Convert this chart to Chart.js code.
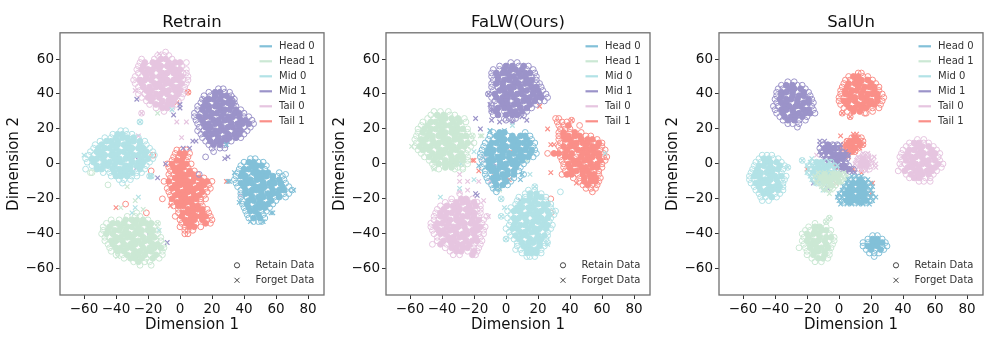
<!DOCTYPE html>
<html>
<head>
<meta charset="utf-8">
<title>t-SNE panels</title>
<script src="https://cdn.jsdelivr.net/npm/chart.js@4/dist/chart.umd.min.js"></script>
<style>
  html, body { margin: 0; padding: 0; background: #fff; }
  canvas { position: absolute; top: 0; }
</style>
</head>
<body>
<canvas id="retrain" width="333" height="343" style="left:0"></canvas>
<canvas id="falw" width="333" height="343" style="left:326px"></canvas>
<canvas id="salun" width="333" height="343" style="left:659px"></canvas>
<script>
const classNames = ["Head 0", "Head 1", "Mid 0", "Mid 1", "Tail 0", "Tail 1"];
const classColors = ["#82c0d8", "#cbe8d4", "#b2e2e6", "#9b93c9", "#e6c5e0", "#fa8f88"];
const panelTitles = ["Retrain", "FaLW(Ours)", "SalUn"];
const xTickValues = [-60, -40, -20, 0, 20, 40, 60, 80];
const yTickValues = [-60, -40, -20, 0, 20, 40, 60];

// every row below is [y, x, x, x ...]
const retrainHead0Retain = [[3,44,47],[1,40,43,46,49,52],[-1,38,42,45,48,51,54],[-3,37,40,43,47,50,53],[-5,36,39,43,46,49,52,55,62],[-6,66],[-7,35,38,41,45,48,51,54,58,61,64],[-9,34,38,41,44,48,51,55,58,62,65],[-11,35,38,42,45,49,52,56,59,63,66],[-13,36,40,43,47,50,53,57,60,64,68],[-15,38,41,45,48,51,55,58,62,65,70],[-17,38,41,44,48,51,55,58,61,65,68],[-19,38,42,45,49,52,56,59,62,66],[-21,39,43,46,50,53,57,60],[-23,39,42,45,49,52,55,58],[-25,40,43,47,50,53,56],[-27,41,44,47,51,54],[-29,42,45,49,52],[-31,43,46,50,53],[-33,46,49,51]];
const retrainHead0Forget = [[11,29],[-10,30,31],[-15,71],[-28,57,58],[-33,44,52],[-5,34],[-22,37]];
const retrainHead1Retain = [[-28,-27],[-30,-33,-28,-25],[-32,-43,-38,-34,-30,-27,-23,-20],[-34,-46,-42,-39,-35,-32,-28,-24,-21,-18,-14],[-36,-48,-44,-41,-37,-33,-30,-26,-23,-19,-16],[-38,-48,-45,-41,-38,-34,-31,-27,-24,-20,-17,-14],[-40,-49,-46,-42,-39,-35,-32,-28,-25,-21,-18,-14],[-42,-47,-44,-40,-37,-33,-30,-26,-23,-19,-16,-12],[-44,-47,-43,-40,-36,-33,-29,-26,-22,-19,-15,-12],[-46,-45,-42,-38,-35,-31,-28,-24,-21,-17,-14,-10],[-48,-44,-40,-37,-33,-30,-26,-23,-19,-16,-12,-10],[-50,-43,-39,-35,-32,-28,-25,-21,-18,-14,-11],[-52,-40,-36,-33,-29,-26,-22,-19,-15,-11],[-54,-35,-31,-28,-24,-21,-17,-13],[-56,-29,-26,-22,-19],[-58,-25,-18],[-12,-45],[-5,-56,-55]];
const retrainHead1Forget = [[-13,-33],[-21,-28],[-26,-23],[-25,-37],[-34,-14],[29,-14],[-49,-40],[-53,-39]];
const retrainMid0Retain = [[19,-37,-34],[17,-42,-39,-36,-33,-30],[15,-47,-43,-40,-36,-33,-29,-26],[13,-50,-46,-43,-39,-36,-32,-29,-25,-22],[11,-53,-49,-46,-42,-39,-35,-32,-28,-25,-21],[9,-54,-51,-47,-44,-40,-37,-33,-30,-26,-23,-19],[7,-56,-52,-49,-45,-42,-38,-35,-31,-28,-24,-21,-17],[5,-57,-54,-50,-47,-43,-40,-36,-33,-29,-26,-22,-19,-16],[3,-59,-55,-52,-48,-45,-41,-38,-34,-31,-27,-24,-20,-17],[1,-58,-54,-51,-47,-44,-40,-37,-33,-30,-26,-23,-19],[-1,-55,-52,-48,-45,-41,-38,-34,-31,-27,-24,-21],[-3,-59,-52,-49,-45,-42,-38,-35,-32,-28,-25,-22],[-5,-48,-44,-41,-37,-34,-30,-27,-24],[-7,-43,-40,-37,-33,-30,-27],[-9,-38,-35,-31],[-11,-36],[24,-25],[-7,-19,-18]];
const retrainMid0Forget = [[24,-25],[-7,-19,-18],[-19,-26],[-25,-28],[-28,-30],[-38,-13],[-54,-25],[31,-5],[5,-60]];
const retrainMid1Retain = [[43,24,27],[41,18,22,25,28,31],[39,15,19,22,26,29,32],[37,14,18,21,25,28,31,34],[35,13,16,20,23,27,30,33,34],[33,11,15,18,22,25,29,32,35],[31,11,14,18,21,25,28,31,35,38],[29,9,13,16,20,23,27,30,34,37,40],[27,9,12,16,19,23,26,30,33,37,40,43],[25,10,14,17,21,24,28,31,35,38,41,45],[23,11,15,18,22,25,29,32,36,39,43,46],[21,12,16,19,23,26,30,33,37,40,44],[19,11,15,18,22,25,28,32,35,38,42],[17,13,16,20,23,27,30,34,37,40],[15,14,18,21,24,28,31,35,38],[13,16,19,23,26,29,32],[11,18,21,25,28],[9,20,25,28],[7,21],[4,16],[-6,12]];
const retrainMid1Forget = [[37,-27,15],[34,0],[32,0],[28,-4],[4,-28],[-2,-27],[-8,-14],[9,2,6],[-39,-19],[-45,-8],[0,-9],[4,30],[3,28],[13,8,10],[38,33]];
const retrainTail0Retain = [[64,-9],[62,-14,-10,-7],[60,-24,-16,-12,-9,-5],[58,-25,-22,-17,-14,-10,-7,-3,0,4],[56,-26,-23,-19,-15,-12,-8,-5,-2,1],[54,-27,-24,-20,-17,-13,-10,-6,-3,0,4],[52,-26,-22,-18,-15,-11,-8,-4,-1,2,4],[50,-28,-24,-21,-17,-13,-10,-6,-2,1,5],[48,-29,-25,-22,-18,-15,-11,-8,-4,-1,2,5],[46,-28,-24,-20,-16,-13,-9,-6,-2,1,4],[44,-26,-23,-19,-15,-12,-8,-4,-1,3],[42,-25,-21,-18,-14,-10,-7,-3,0,3],[40,-26,-22,-19,-15,-12,-8,-5,-1,2],[38,-24,-20,-17,-13,-10,-6,-3,1],[36,-21,-18,-14,-11,-7,-4,-1],[34,-19,-15,-12,-8,-5,-2],[32,-15,-11,-8,-5],[30,-10],[29,-24]];
const retrainTail0Forget = [[42,-28],[29,-24],[24,-2,4],[15,1],[16,-26],[-18,38],[63,-13]];
const retrainTail1Retain = [[8,-2,1,4],[6,-3,0,3,6],[4,-4,-1,2,5],[2,-5,-2,1,4],[0,-8,-5,-2,1,4,7],[-2,-7,-4,-1,2,5],[-4,-6,-3,0,3,6,9],[-6,-7,-4,-1,2,5,8,11],[-8,-6,-3,0,3,6,9,12,15],[-10,-10,-7,-4,-1,2,5,8,11,14,17,20],[-12,-6,-3,0,3,6,9,12,15,18],[-14,-8,-5,-2,1,4,7,10,13,16,19],[-16,-7,-4,-1,2,5,8,11,14,17],[-18,-6,-3,0,3,6,9,12,15],[-20,-11,-5,-2,1,4,7,10,13,16],[-22,-5,-2,1,4,7,10,13],[-24,-4,-1,2,5,8,11,14],[-26,-1,2,5,8,11,14,17],[-28,-1,2,5,8,11,14,18],[-30,-3,1,4,7,10,13,16,19],[-32,0,3,6,9,14,17,20],[-34,1,4,7,10,16,19],[-36,0,3,6,9,13],[-38,3,5,8],[-40,3,5],[41,5],[27,16],[5,-17],[-4,-18],[-23,-34],[-28,-21]];
const retrainTail1Forget = [[41,5],[35,-2],[29,21],[-10,29],[-25,-40],[-35,-19],[-42,-17],[-24,-6]];

const falwHead0Retain = [[18,-8,-4,-1,12],[16,-10,-6,-3,1,4,9,12,15],[14,-11,-8,-4,-1,3,6,10,13,16],[12,-13,-9,-6,-2,1,5,8,11,15,18],[10,-14,-10,-7,-3,0,4,7,10,13,17],[8,-15,-11,-8,-4,-1,3,6,9,12,16,18],[6,-16,-12,-9,-5,-2,2,5,9,12,15,19],[4,-16,-12,-9,-5,-2,2,5,8,11,14,17],[2,-15,-11,-8,-4,-1,3,6,10,13],[0,-14,-10,-7,-3,0,4,7,11],[-2,-15,-11,-8,-4,-1,3,6,9],[-4,-13,-9,-6,-2,1,5,8],[-6,-13,-9,-6,-2,1,5,11],[-8,-12,-8,-5,-1,2,5],[-10,-11,-7,-4,0,3],[-12,-9,-6,-2,1],[-14,-8,-5],[-16,-6]];
const falwHead0Forget = [[-9,9],[-1,-17],[-6,10],[-14,-7,-4],[19,-10,-1]];
const falwHead1Retain = [[30,-45,-41,-36],[28,-47,-43,-39,-35,-32],[26,-49,-45,-41,-38,-34,-30,-26],[24,-52,-47,-44,-40,-36,-33,-29,-25],[22,-53,-49,-45,-42,-38,-35,-31,-28],[20,-55,-51,-47,-44,-40,-37,-33,-30,-27,-24],[18,-55,-52,-48,-45,-41,-38,-34,-31,-27,-24],[16,-56,-53,-49,-46,-42,-39,-35,-32,-28,-25,-21],[14,-57,-53,-50,-46,-43,-39,-36,-32,-29,-25,-22],[12,-56,-52,-49,-45,-42,-38,-35,-31,-28,-24,-20],[10,-57,-54,-50,-47,-43,-40,-36,-33,-29,-26,-22],[8,-55,-52,-48,-45,-41,-38,-34,-31,-27,-24],[6,-53,-49,-46,-42,-39,-35,-32,-28,-25],[4,-51,-48,-44,-41,-37,-34,-30,-27,-24],[2,-48,-45,-41,-38,-34,-31,-27,-24],[0,-46,-42,-38,-35,-31,-28,-24],[-2,-45,-38,-34,-30,-27],[-3,-42,-32,-27]];
const falwHead1Forget = [[2,-42],[16,-21,-16,-15],[-15,-4],[2,13],[10,-59],[-3,-45]];
const falwMid0Retain = [[-15,14,18],[-17,12,15,19,22],[-19,8,12,15,19,22,25],[-21,7,11,14,18,21,25],[-23,6,9,13,16,20,23,26,28],[-25,3,7,10,14,17,21,24,28],[-27,1,5,8,12,15,19,22,26,29,31],[-29,3,6,10,13,17,20,24,27,30],[-31,1,5,8,12,15,19,22,26,28],[-33,3,6,10,13,17,20,24,27],[-35,2,5,9,12,16,19,23,26,29],[-37,0,4,7,11,14,18,21,25,28],[-39,2,5,9,12,16,19,23,26],[-41,3,6,10,13,17,20,24,26],[-43,5,8,12,15,19,22,25],[-45,7,10,14,17,21,24,26],[-47,7,11,14,18,21,24],[-49,6,9,13,16,19,22],[-51,10,13,16,19,22],[-53,13,15,18],[-16,34],[-20,-3],[-30,-3],[-43,0],[-13,18]];
const falwMid0Forget = [[-19,-41],[-14,-29],[-9,-20],[7,-20],[0,-28,-33],[22,4],[19,-10],[-30,-3],[-43,0],[-13,18],[-6,15,10],[-20,-3],[-25,-1],[6,62],[-46,26]];
const falwMid1Retain = [[58,3,7],[56,-4,0,4,8,11,14],[54,-8,-4,-1,3,6,10,13,17],[52,-9,-6,-2,1,5,8,12,15,18],[50,-9,-5,-2,2,5,9,12,16,19],[48,-8,-5,-1,2,6,9,13,16,19],[46,-9,-6,-2,1,5,8,12,15,19,21],[44,-9,-5,-2,2,5,9,12,16,19,22],[42,-8,-4,-1,3,6,10,13,17,20,23],[40,-11,-7,-4,0,3,7,10,14,17,21,25],[38,-9,-6,-2,1,5,8,12,15,19,22,26],[36,-7,-3,0,4,7,11,14,18,21,24],[34,-9,-6,-2,1,5,8,12,15,19],[32,-9,-5,-1,2,6,9,13,16],[30,-9,-6,-1,3,6,10,13],[28,-8,-5,0,4,7,11],[26,-1,2,6],[25,0,4],[1,-6]];
const falwMid1Forget = [[26,-19],[20,-16],[25,-9],[24,-4,4],[27,10],[25,13],[18,-1],[-17,-19],[-18,-18],[-21,9],[40,-11],[31,-9,-8],[34,-10]];
const falwTail0Retain = [[-17,-29],[-20,-34,-28,-25,-21],[-22,-38,-34,-31,-27,-24,-20,-18],[-24,-41,-37,-33,-30,-26,-23,-19,-16],[-26,-43,-39,-36,-32,-29,-25,-22,-18,-16],[-28,-44,-41,-37,-34,-30,-27,-23,-20,-16],[-30,-45,-41,-38,-34,-31,-27,-24,-20,-17,-12],[-32,-45,-42,-38,-35,-31,-28,-24,-21,-17,-14],[-34,-47,-43,-40,-36,-33,-29,-26,-22,-19,-15],[-36,-47,-44,-40,-37,-33,-30,-26,-23,-19,-16,-13],[-38,-46,-42,-39,-35,-32,-28,-25,-21,-18,-14],[-40,-45,-41,-38,-34,-31,-27,-24,-20,-17,-14],[-42,-43,-40,-36,-33,-29,-26,-22,-19,-16],[-44,-43,-39,-35,-32,-28,-25,-21,-18,-15],[-46,-46,-41,-37,-34,-30,-27,-23,-20,-16],[-48,-38,-34,-31,-27,-24,-20,-17],[-50,-35,-31,-28,-24,-20,-18],[-52,-33,-29,-21,-19],[3,-14]];
const falwTail0Forget = [[-6,-29],[-10,-29,-24,-17,-10],[-15,-24],[-16,-29],[12,-22],[-21,-14],[2,-12],[-30,-11]];
const falwTail1Retain = [[26,31,33],[24,32,35,38],[22,33,36,39,46],[20,34,37,40],[18,33,36,40,43,47],[16,33,36,39,43,46,50,53],[14,33,37,40,44,47,51,54,57],[12,34,37,41,44,48,51,55,58,60],[10,33,36,40,43,47,50,54,57,60],[8,34,38,41,45,48,52,55,59,62],[6,26,30,33,37,41,44,48,51,55,58,61],[4,34,37,40,44,47,51,54,58,61,63],[2,35,38,42,45,49,52,56,59,62],[0,36,39,43,46,50,53,57,60],[-2,36,40,43,47,50,54,57,60],[-4,37,41,44,48,51,55,58],[-6,35,38,41,45,48,52,55,58],[-8,42,46,49,53,56,59],[-10,46,49,53,56,58],[-12,48,51,54,57],[-14,50,53,56],[-16,54],[-20,28],[-28,28],[25,41]];
const falwTail1Forget = [[33,21],[20,26],[25,41],[-5,28],[11,28,30],[7,3],[-7,-7],[-9,2],[-4,-17],[2,-21,-20],[-11,44]];

const salunHead0Retain = [[-41,21,24],[-43,18,21,24,27],[-45,15,18,21,24,27,29],[-47,15,18,21,24,27,30],[-49,17,20,23,26,28],[-51,19,22,25],[-53,22],[-9,7,10,13,16],[-11,6,9,12,15,18],[-13,4,7,10,13,16,19],[-15,3,6,9,12,15,18],[-17,1,4,7,10,13,16,19],[-19,0,3,6,9,12,15,18,21],[-21,2,5,8,11,14,17,20],[-22,3,7,10,14,17]];
const salunHead0Forget = [[-7,8,11,14],[-9,6,9,12,15,18],[-11,5,8,11,14,17,20],[-13,3,6,9,12,15,18,21],[-15,2,5,8,11,14,17,20],[-17,0,3,6,9,12,15,18,21],[-19,-1,2,5,8,11,14,17,20,23],[-21,0,3,6,9,12,15,18,21],[-23,1,5,8,12,15,19]];
const salunHead1Retain = [[-34,-15],[-36,-19,-15,-12,-8],[-38,-21,-18,-15,-11,-8,-5],[-40,-23,-20,-16,-13,-9,-6],[-42,-22,-19,-15,-12,-8,-5,-3],[-44,-23,-20,-16,-13,-9,-6,-3],[-46,-22,-18,-15,-11,-8,-4],[-48,-25,-21,-18,-14,-11,-7,-5],[-50,-20,-16,-13,-9,-6],[-52,-20,-16,-12,-9,-6],[-54,-17,-13,-10,-7],[-56,-15,-11],[-33,-8],[-31,-6],[-6,-12,-9,-6,-3,0,3],[-8,-14,-11,-8,-5,-2,1,4],[-10,-12,-9,-6,-3,0,3],[-12,-11,-8,-5,-2],[-14,-9,-6,-4]];
const salunHead1Forget = [[-33,-8],[-31,-6],[-5,-13,-9,-5,-1,3],[-7,-15,-11,-7,-3,1,5],[-9,-12,-8,-4,0,4],[-11,-14,-10,-6,-2,2],[-13,-11,-7,-3],[-15,-9,-5],[-17,-6]];
const salunMid0Retain = [[5,-48,-45,-42],[3,-50,-47,-44,-41,-38],[1,-52,-49,-46,-43,-39,-36],[-1,-53,-50,-47,-43,-40,-37,-34],[-3,-54,-51,-48,-44,-41,-38,-35],[-5,-55,-52,-49,-45,-42,-39,-36],[-7,-56,-53,-50,-46,-43,-40,-36,-33],[-9,-56,-53,-49,-46,-43,-39,-36,-34],[-11,-55,-52,-48,-45,-41,-38,-35],[-13,-53,-50,-47,-43,-40,-37,-35],[-15,-52,-49,-45,-42,-38,-35],[-17,-50,-47,-44,-40,-37],[-19,-49,-46,-42,-39],[-21,-48,-44],[-2,-32],[2,-23],[1,-17,-14,-11,-8,-5],[-1,-19,-16,-13,-9,-6,-3],[-3,-18,-15,-12,-8,-5,-2],[-5,-19,-16,-13,-10,-6,-3],[-7,-17,-14,-11,-8,-5],[-9,-16,-13,-10,-7],[-11,-14,-11,-8]];
const salunMid0Forget = [[-2,-32],[2,-23],[3,-17],[1,-18,-14,-10,-6],[-1,-20,-16,-12,-8,-4,-1],[-3,-19,-15,-11,-7,-3],[-5,-20,-16,-12,-8,-4],[-7,-18,-14,-10,-6],[-9,-17,-13,-9,-5],[-11,-15,-11,-7],[-15,-10,-8],[-14,5]];
const salunMid1Retain = [[47,-32,-28],[45,-36,-33,-29,-26,-23],[43,-38,-35,-31,-28,-24,-21],[41,-39,-36,-33,-29,-26,-22,-19],[39,-39,-36,-32,-29,-25,-22,-18],[37,-40,-37,-33,-30,-26,-23,-19,-17],[35,-39,-36,-33,-29,-26,-22,-19,-16],[33,-41,-38,-34,-31,-27,-24,-20,-17],[31,-40,-36,-33,-29,-26,-22,-19,-16],[29,-39,-35,-32,-28,-25,-21,-18,-15],[27,-37,-34,-30,-27,-23,-20],[25,-35,-32,-28,-25,-21],[23,-32,-29,-25],[21,-26],[11,-10,-7,-4,-1],[9,-12,-9,-6,-3,0],[7,-11,-8,-5,-1,2],[5,-10,-7,-3,0,3,5],[3,-8,-5,-1,2,5],[1,-6,-2,1,4],[-1,-3,0,3,6],[-3,0,3,6,9]];
const salunMid1Forget = [[13,-12,-9],[11,-12,-8,-5,-2,1],[9,-10,-7,-3,0],[7,-12,-9,-6,-2,1,4],[5,-11,-8,-4,-1,3,6],[3,-9,-6,-2,1,4],[1,-7,-3,0,3],[-1,-2,2,5],[-3,1,4,8],[-5,5,8,10],[-11,-16],[-14,-7],[-7,-4],[-12,8]];
const salunTail0Retain = [[14,49,53],[12,44,47,50,53,56],[10,42,45,49,52,56,59],[8,40,44,47,51,54,58,61],[6,39,43,46,50,53,57,60,63],[4,38,41,45,48,52,55,59,62],[2,39,42,46,49,53,56,60,63],[0,38,41,45,48,52,55,59,62,65],[-2,39,43,46,50,53,57,60,64],[-4,37,41,44,48,51,55,58,61],[-6,42,45,49,52,56,59],[-8,44,47,50,54,57],[-10,50,53,57],[5,15,18],[3,12,15,18,21],[1,11,14,17,20],[-1,11,14,17,20],[-3,13,16,19]];
const salunTail0Forget = [[6,15,18],[4,12,15,18,22],[2,11,14,17,20],[0,10,13,16,19,23],[-2,12,15,18,23],[-4,14,17],[-9,-13],[5,-14]];
const salunTail1Retain = [[52,12,14],[50,6,9,12,15,18],[48,4,7,11,14,18,21],[46,3,6,10,13,17,20,23],[44,2,5,9,12,16,19,22,25],[42,1,4,8,11,15,18,22,25],[40,1,4,7,11,14,18,21,24,27],[38,0,3,7,10,14,17,21,24,28],[36,0,3,6,10,13,17,20,24,27],[34,1,5,8,12,15,19,22,26],[32,3,7,10,14,17,21,25],[30,5,9,13,21],[29,2,16,17],[27,7],[15,8,10,12,14],[13,5,7,10,12,15],[11,3,5,8,10,13,15],[9,2,5,7,10,12],[7,3,5,8,10]];
const salunTail1Forget = [[29,2],[27,7],[17,9,11],[16,1],[15,9,12],[13,5,8,11,14],[11,3,6,9,13,15],[9,1,4,7,10,13],[7,4,7,10],[4,6],[-3,-20,9],[-1,-13,-6],[-5,-9,14],[-2,-2,-1],[-7,-1],[-11,-2,21],[-17,20]];

const panelData = [
  [retrainHead0Retain, retrainHead0Forget, retrainHead1Retain, retrainHead1Forget, retrainMid0Retain, retrainMid0Forget, retrainMid1Retain, retrainMid1Forget, retrainTail0Retain, retrainTail0Forget, retrainTail1Retain, retrainTail1Forget],
  [falwHead0Retain, falwHead0Forget, falwHead1Retain, falwHead1Forget, falwMid0Retain, falwMid0Forget, falwMid1Retain, falwMid1Forget, falwTail0Retain, falwTail0Forget, falwTail1Retain, falwTail1Forget],
  [salunHead0Retain, salunHead0Forget, salunHead1Retain, salunHead1Forget, salunMid0Retain, salunMid0Forget, salunMid1Retain, salunMid1Forget, salunTail0Retain, salunTail0Forget, salunTail1Retain, salunTail1Forget]
];

const fontName = "'DejaVu Sans'";

// in the source the cores are hundreds of rings on top of each other, so
// points inside a row get filled, row ends and a few inner ones stay open
function toPoints(rows) {
  const out = [];
  rows.forEach((r, n) => {
    const xs = r.slice(1);
    xs.forEach((x, i) => {
      const inner = xs.length >= 4 && i > 0 && i < xs.length - 1 && (i + n * 2) % 5 !== 0;
      out.push({ x: x, y: r[0], inner: inner });
    });
  });
  return out;
}

// legends sit inside the axes like in matplotlib, chart.js has no second legend
const insideLegend = {
  id: "insideLegend",
  afterDatasetsDraw(chart) {
    const a = chart.chartArea, c = chart.ctx;
    c.save();
    c.strokeStyle = "#707070";
    c.lineWidth = 1.3;
    c.strokeRect(a.left, a.top, a.width, a.height);
    c.font = "10px " + fontName;
    c.textBaseline = "middle";
    classNames.forEach((name, i) => {
      const y = a.top + 13.5 + i * 15;
      c.strokeStyle = classColors[i];
      c.lineWidth = 2.2;
      c.beginPath();
      c.moveTo(a.left + 199.5, y);
      c.lineTo(a.left + 212, y);
      c.stroke();
      c.fillStyle = "#333";
      c.fillText(name, a.left + 219, y);
    });
    ["Retain Data", "Forget Data"].forEach((name, i) => {
      const y = a.top + 232.5 + i * 15;
      const mx = a.left + 177;
      c.strokeStyle = "#444";
      c.lineWidth = 1;
      c.beginPath();
      if (i === 0) {
        c.arc(mx, y, 2.6, 0, Math.PI * 2);
      } else {
        c.moveTo(mx - 2.5, y - 2.5); c.lineTo(mx + 2.5, y + 2.5);
        c.moveTo(mx - 2.5, y + 2.5); c.lineTo(mx + 2.5, y - 2.5);
      }
      c.stroke();
      c.fillStyle = "#333";
      c.fillText(name, a.left + 195.5, y);
    });
    c.restore();
  }
};

function axisOptions(min, max, values, label, isX) {
  return {
    type: "linear",
    min: min,
    max: max,
    afterBuildTicks: s => { s.ticks = values.map(v => ({ value: v })); },
    afterFit: s => { if (isX) s.height = 48; else s.width = 60; },
    grid: { drawOnChartArea: false, drawTicks: true, tickLength: 4, color: "#333", lineWidth: 1 },
    border: { display: false },
    ticks: {
      autoSkip: false,
      maxRotation: 0,
      padding: 2,
      color: "#111",
      font: { family: fontName, size: 13.5 },
      callback: v => String(v).replace("-", "\u2212")
    },
    title: {
      display: true,
      text: label,
      color: "#111",
      font: { family: fontName, size: 15 },
      padding: isX ? { top: 0, bottom: 9 } : { top: 5, bottom: 0 }
    }
  };
}

["retrain", "falw", "salun"].forEach((id, p) => {
  const datasets = [];
  classNames.forEach((name, i) => {
    datasets.push({
      label: name + " retain",
      data: toPoints(panelData[p][i * 2]),
      pointStyle: "circle",
      pointRadius: 2.9,
      pointBorderWidth: 1,
      pointBackgroundColor: ctx => (ctx.raw && ctx.raw.inner) ? classColors[i] : "rgba(0,0,0,0)",
      pointBorderColor: classColors[i]
    });
    datasets.push({
      label: name + " forget",
      data: toPoints(panelData[p][i * 2 + 1]),
      pointStyle: "crossRot",
      pointRadius: 3.2,
      pointBorderWidth: 1.2,
      pointBorderColor: classColors[i]
    });
  });
  new Chart(document.getElementById(id), {
    type: "scatter",
    data: { datasets: datasets },
    plugins: [insideLegend],
    options: {
      responsive: false,
      animation: false,
      layout: { padding: { right: 9, left: 0, top: 0, bottom: 0 } },
      plugins: {
        legend: { display: false },
        tooltip: { enabled: false },
        title: {
          display: true,
          text: panelTitles[p],
          fullSize: false,
          color: "#111",
          font: { family: fontName, size: 16.5, weight: "normal" },
          padding: { top: 13, bottom: 0 }
        }
      },
      scales: {
        x: axisOptions(-75, 90, xTickValues, "Dimension 1", true),
        y: axisOptions(-75, 75, yTickValues, "Dimension 2", false)
      }
    }
  });
});
</script>
</body>
</html>
